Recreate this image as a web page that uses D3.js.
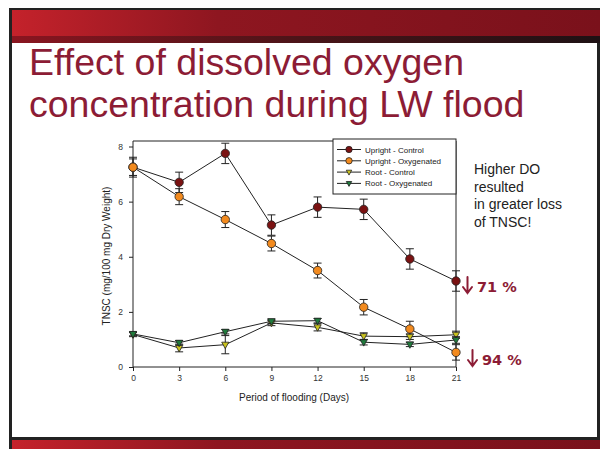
<!DOCTYPE html>
<html>
<head>
<meta charset="utf-8">
<script src="https://cdn.jsdelivr.net/npm/d3@7"></script>
<style>
	body { margin: 0; background: #fff; }
	svg { display: block; font-family: Arial, "Liberation Sans", sans-serif; }
</style>
</head>
<body>
<svg id="slide" width="600" height="449"></svg>
<script>
// flooding days
var days = [0, 3, 6, 9, 12, 15, 18, 21];

// TNSC means and standard errors
var uprightControl    = [7.25, 6.70, 7.75, 5.15, 5.80, 5.72, 3.92, 3.12];
var uprightControlErr = [0.36, 0.37, 0.37, 0.37, 0.37, 0.37, 0.37, 0.37];
var uprightOxy        = [7.25, 6.18, 5.35, 4.48, 3.50, 2.17, 1.38, 0.53];
var uprightOxyErr     = [0.30, 0.29, 0.29, 0.27, 0.27, 0.28, 0.28, 0.28];
var rootControl       = [1.18, 0.69, 0.81, 1.60, 1.44, 1.12, 1.10, 1.17];
var rootControlErr    = [0.08, 0.14, 0.33, 0.10, 0.13, 0.12, 0.10, 0.13];
var rootOxy           = [1.20, 0.88, 1.28, 1.66, 1.68, 0.90, 0.82, 0.98];
var rootOxyErr        = [0.07, 0.08, 0.08, 0.08, 0.08, 0.10, 0.08, 0.12];

var seriesNames = ['Upright - Control', 'Upright - Oxygenated', 'Root - Control', 'Root - Oxygenated'];
var yTicks = [0, 2, 4, 6, 8];

var series = [
	{name: seriesNames[0], values: uprightControl, err: uprightControlErr, fill: '#7a1212', shape: 'circle'},
	{name: seriesNames[1], values: uprightOxy, err: uprightOxyErr, fill: '#f28a1e', shape: 'circle'},
	{name: seriesNames[2], values: rootControl, err: rootControlErr, fill: '#c9c21e', shape: 'tri'},
	{name: seriesNames[3], values: rootOxy, err: rootOxyErr, fill: '#1f7a3c', shape: 'tri'}
];

var svg = d3.select('#slide');
var red = '#8c1c35';

// slide frame and banners
var defs = svg.append('defs');
var g1 = defs.append('linearGradient').attr('id', 'band');
g1.append('stop').attr('offset', '0').attr('stop-color', '#c4222b');
g1.append('stop').attr('offset', '0.35').attr('stop-color', '#8e1620');
g1.append('stop').attr('offset', '1').attr('stop-color', '#7a111b');
var g2 = defs.append('linearGradient').attr('id', 'shade');
g2.append('stop').attr('offset', '0').attr('stop-color', '#8a1520');
g2.append('stop').attr('offset', '0.5').attr('stop-color', '#4a1418');
g2.append('stop').attr('offset', '1').attr('stop-color', '#1e1114');

svg.append('rect').attr('x', 9).attr('y', 8).attr('width', 591).attr('height', 441).attr('fill', '#222');
svg.append('rect').attr('x', 12).attr('y', 43).attr('width', 585).attr('height', 394).attr('fill', '#fff');
svg.append('rect').attr('x', 12).attr('y', 10).attr('width', 588).attr('height', 26).attr('fill', 'url(#band)');
svg.append('rect').attr('x', 12).attr('y', 36).attr('width', 588).attr('height', 7).attr('fill', 'url(#shade)');
svg.append('rect').attr('x', 12).attr('y', 440).attr('width', 588).attr('height', 9).attr('fill', 'url(#band)');

// title
var title = svg.append('text').attr('fill', red).attr('font-size', 37.5);
title.append('tspan').attr('x', 29).attr('y', 75).text('Effect of dissolved oxygen');
title.append('tspan').attr('x', 29).attr('y', 117).text('concentration during LW flood');

// chart
var x = d3.scaleLinear().domain([0, 21]).range([133, 456]);
var y = d3.scaleLinear().domain([0, 8.2]).range([367, 141]);

var chart = svg.append('g');

chart.append('path')
	.attr('d', 'M' + x(0) + ',' + y(8.2) + 'H' + x(21) + 'V' + y(0))
	.attr('fill', 'none').attr('stroke', '#222').attr('stroke-width', 1);

var xAxis = chart.append('g')
	.attr('transform', 'translate(0,' + y(0) + ')')
	.call(d3.axisBottom(x).tickValues(days).tickSize(4).tickPadding(4));
var yAxis = chart.append('g')
	.attr('transform', 'translate(' + x(0) + ',0)')
	.call(d3.axisLeft(y).tickValues(yTicks).tickSize(4).tickPadding(6));

[xAxis, yAxis].forEach(function(a)
{
	a.select('.domain').attr('stroke', '#222');
	a.selectAll('line').attr('stroke', '#222');
	a.selectAll('text').attr('font-size', 8.5).attr('fill', '#333').attr('font-family', 'Arial, "Liberation Sans", sans-serif');
});
xAxis.select('.domain').attr('d', 'M' + x(0) + ',0H' + x(21));
yAxis.select('.domain').attr('d', 'M0,' + y(0) + 'V' + y(8.2));

chart.append('text')
	.attr('x', 294).attr('y', 401)
	.attr('text-anchor', 'middle').attr('font-size', 10).attr('fill', '#222')
	.text('Period of flooding (Days)');
chart.append('text')
	.attr('transform', 'translate(110,256) rotate(-90)')
	.attr('text-anchor', 'middle').attr('font-size', 10).attr('fill', '#222')
	.text('TNSC (mg/100 mg Dry Weight)');

var line = d3.line()
	.x(function(d, i){ return x(days[i]); })
	.y(function(d){ return y(d); });

function marker(sel, s, size)
{
	if (s.shape === 'circle')
	{
		sel.append('circle').attr('r', size)
			.attr('fill', s.fill).attr('stroke', '#222').attr('stroke-width', 0.8);
	}
	else
	{
		var h = size * 0.85;
		sel.append('path')
			.attr('d', 'M' + (-h) + ',' + (-h * 0.7) + 'L' + h + ',' + (-h * 0.7) + 'L0,' + (h * 1.1) + 'Z')
			.attr('fill', s.fill).attr('stroke', '#222').attr('stroke-width', 0.8);
	}
}

// lines first, then error bars and markers
series.forEach(function(s)
{
	chart.append('path').datum(s.values)
		.attr('d', line)
		.attr('fill', 'none').attr('stroke', '#222').attr('stroke-width', 1);
});

series.forEach(function(s)
{
	var pts = chart.selectAll(null).data(s.values).enter()
		.append('g')
		.attr('transform', function(d, i){ return 'translate(' + x(days[i]) + ',0)'; });

	pts.append('path')
		.attr('d', function(d, i){
			var lo = y(d - s.err[i]), hi = y(d + s.err[i]);
			return 'M0,' + lo + 'V' + hi + 'M-4,' + lo + 'H4M-4,' + hi + 'H4';
		})
		.attr('fill', 'none').attr('stroke', '#222').attr('stroke-width', 1);

	pts.each(function(d)
	{
		var g = d3.select(this).append('g').attr('transform', 'translate(0,' + y(d) + ')');
		marker(g, s, 4.2);
	});
});

// legend
var legend = chart.append('g');
legend.append('rect')
	.attr('x', 333).attr('y', 139).attr('width', 123).attr('height', 55)
	.attr('fill', '#fff').attr('stroke', '#222').attr('stroke-width', 1);

var row = legend.selectAll('g.row').data(series).enter()
	.append('g')
	.attr('class', 'row')
	.attr('transform', function(d, i){ return 'translate(0,' + (149.5 + i * 11.3) + ')'; });

row.append('line').attr('x1', 337).attr('x2', 361).attr('stroke', '#222').attr('stroke-width', 1);
row.each(function(s)
{
	var g = d3.select(this).append('g').attr('transform', 'translate(349,0)');
	marker(g, s, 3.2);
});
row.append('text')
	.attr('x', 365).attr('y', 3)
	.attr('font-size', 8).attr('fill', '#222')
	.text(function(d){ return d.name; });

// annotations
var note = svg.append('text').attr('font-size', 14).attr('fill', '#222');
['Higher DO', 'resulted', 'in greater loss', 'of TNSC!'].forEach(function(t, i)
{
	note.append('tspan').attr('x', 474).attr('y', 174 + i * 17.5).text(t);
});

function drop(ax, top, bottom, tx, baseline, label)
{
	svg.append('path')
		.attr('d', 'M' + ax + ',' + top + 'V' + bottom + 'M' + (ax - 4.5) + ',' + (bottom - 6) + 'L' + ax + ',' + bottom + 'L' + (ax + 4.5) + ',' + (bottom - 6))
		.attr('fill', 'none').attr('stroke', red).attr('stroke-width', 2).attr('stroke-linecap', 'round');
	svg.append('text')
		.attr('x', tx).attr('y', baseline)
		.attr('font-family', '"DejaVu Sans", Verdana, sans-serif')
		.attr('font-size', 14.5).attr('font-weight', 'bold').attr('fill', red)
		.text(label);
}
drop(467.5, 277, 293, 477, 292, '71 %');
drop(472.5, 350, 366, 482, 365, '94 %');
</script>
</body>
</html>
